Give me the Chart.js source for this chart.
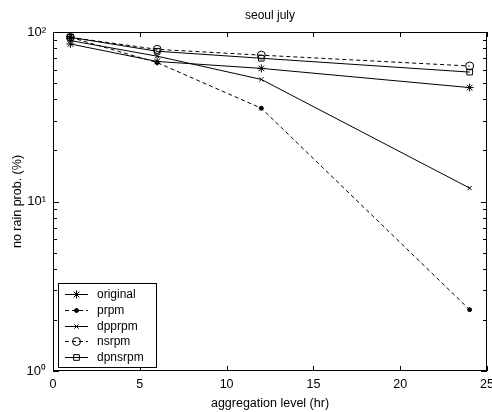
<!DOCTYPE html>
<html>
<head>
<meta charset="utf-8">
<script src="https://cdn.jsdelivr.net/npm/chart.js@4.4.1/dist/chart.umd.min.js"></script>
<style>
  html, body { margin: 0; padding: 0; background: #fff; }
  #wrap { width: 492px; height: 412px; }
</style>
</head>
<body>
<div id="wrap"><canvas id="rainChart" width="492" height="412"></canvas></div>
<script>
// aggregation levels (hr) and no-rain probability (%) per method
const levels = [1, 6, 12, 24];
const original = [85, 67, 61, 47];
const prpm = [93, 66, 35.5, 2.3];
const dpprpm = [89, 72, 52.5, 12];
const nsrpm = [93, 79, 73, 63];
const dpnsrpm = [93, 77, 70, 58];
const seriesNames = ['original', 'prpm', 'dpprpm', 'nsrpm', 'dpnsrpm'];
const xTicks = [0, 5, 10, 15, 20, 25];
const yTicks = [1, 10, 100];
const yTickLabels = ['10\u2070', '10\u00b9', '10\u00b2'];

function pts(vals) {
    return levels.map(function(x, i) { return { x: x, y: vals[i] }; });
}

Chart.defaults.font.family = '"Liberation Sans", Arial, sans-serif';
Chart.defaults.font.size = 12;
Chart.defaults.color = '#000';

const styles = [
    { pointStyle: 'star', radius: 4, dash: [], fill: false },
    { pointStyle: 'circle', radius: 2, dash: [4, 3], fill: true },
    { pointStyle: 'crossRot', radius: 3, dash: [], fill: false },
    { pointStyle: 'circle', radius: 4, dash: [4, 3], fill: false },
    { pointStyle: 'rect', radius: 4, dash: [], fill: false }
];
const allSeries = [original, prpm, dpprpm, nsrpm, dpnsrpm];

const datasets = allSeries.map(function(vals, i) {
    const s = styles[i];
    return {
        label: seriesNames[i],
        data: pts(vals),
        showLine: true,
        borderColor: '#000',
        borderWidth: 1,
        borderDash: s.dash,
        backgroundColor: s.fill ? '#000' : 'rgba(0,0,0,0)',
        pointStyle: s.pointStyle,
        pointRadius: s.radius,
        pointHoverRadius: s.radius,
        pointBorderColor: '#000',
        pointBackgroundColor: s.fill ? '#000' : 'rgba(0,0,0,0)',
        pointBorderWidth: 1
    };
});

// frame, inward ticks and legend box drawn like the original figure
const framePlugin = {
    id: 'frame',
    afterDraw: function(chart) {
        const ctx = chart.ctx;
        const a = chart.chartArea;
        const xs = chart.scales.x, ys = chart.scales.y;
        ctx.save();
        ctx.strokeStyle = '#000';
        ctx.lineWidth = 1;
        ctx.setLineDash([]);
        ctx.strokeRect(Math.round(a.left) + 0.5, Math.round(a.top) + 0.5,
            Math.round(a.right - a.left) - 1, Math.round(a.bottom - a.top) - 1);
        ctx.beginPath();
        xTicks.forEach(function(v) {
            const px = Math.round(xs.getPixelForValue(v)) + 0.5;
            ctx.moveTo(px, a.bottom); ctx.lineTo(px, a.bottom - 5);
            ctx.moveTo(px, a.top); ctx.lineTo(px, a.top + 5);
        });
        for (let d = 1; d <= 100; d *= 10) {
            for (let m = 1; m < 10; m++) {
                const v = d * m;
                if (v > 100) break;
                const py = Math.round(ys.getPixelForValue(v)) + 0.5;
                const len = m === 1 ? 6 : 4;
                ctx.moveTo(a.left, py); ctx.lineTo(a.left + len, py);
                ctx.moveTo(a.right, py); ctx.lineTo(a.right - len, py);
            }
        }
        ctx.stroke();

        // legend
        const bx = 58.5, by = 283.5, bw = 98, bh = 84;
        ctx.fillStyle = '#fff';
        ctx.fillRect(bx, by, bw, bh);
        ctx.strokeRect(bx, by, bw, bh);
        ctx.font = '12px "Liberation Sans", Arial, sans-serif';
        ctx.textBaseline = 'middle';
        ctx.textAlign = 'left';
        chart.data.datasets.forEach(function(ds, i) {
            const y = Math.round(294 + i * 15.8) + 0.5;
            ctx.strokeStyle = '#000';
            ctx.setLineDash(ds.borderDash);
            ctx.beginPath();
            ctx.moveTo(65, y); ctx.lineTo(88, y);
            ctx.stroke();
            ctx.setLineDash([]);
            ctx.fillStyle = ds.pointBackgroundColor;
            Chart.helpers.drawPoint(ctx, {
                pointStyle: ds.pointStyle, radius: ds.pointRadius,
                borderWidth: 1, rotation: 0
            }, 76.5, y);
            ctx.fillStyle = '#000';
            ctx.fillText(ds.label, 97, y);
        });
        ctx.restore();
    }
};

new Chart(document.getElementById('rainChart'), {
    type: 'scatter',
    data: { datasets: datasets },
    options: {
        responsive: false,
        animation: false,
        layout: { padding: { top: 0, right: 3, left: 0, bottom: 0 } },
        plugins: {
            legend: { display: false },
            tooltip: { enabled: false },
            title: {
                display: true,
                text: 'seoul july',
                fullSize: false,
                font: { size: 12, weight: 'normal' },
                padding: { top: 8, bottom: 9.6 }
            }
        },
        scales: {
            x: {
                type: 'linear',
                min: 0,
                max: 25,
                grid: { display: false, drawTicks: false },
                border: { display: false },
                afterBuildTicks: function(s) { s.ticks = xTicks.map(function(v) { return { value: v }; }); },
                ticks: { padding: 6, maxRotation: 0, font: { size: 12.5 } },
                title: { display: true, text: 'aggregation level (hr)', padding: { top: 0, bottom: 1 }, font: { size: 12.5 } },
                afterFit: function(s) { s.height = 41; s.paddingLeft = 0; s.paddingRight = 0; }
            },
            y: {
                type: 'logarithmic',
                min: 1,
                max: 100,
                grid: { display: false, drawTicks: false },
                border: { display: false },
                afterBuildTicks: function(s) { s.ticks = yTicks.map(function(v) { return { value: v }; }); },
                ticks: {
                    padding: 7,
                    font: { size: 13 },
                    callback: function(value) {
                        const i = yTicks.indexOf(value);
                        return i >= 0 ? yTickLabels[i] : '';
                    }
                },
                title: { display: true, text: 'no rain prob. (%)', padding: { top: 10, bottom: 0 }, font: { size: 12.5 } },
                afterFit: function(s) { s.width = 53; s.paddingTop = 0; s.paddingBottom = 0; }
            }
        }
    },
    plugins: [framePlugin]
});
</script>
</body>
</html>
